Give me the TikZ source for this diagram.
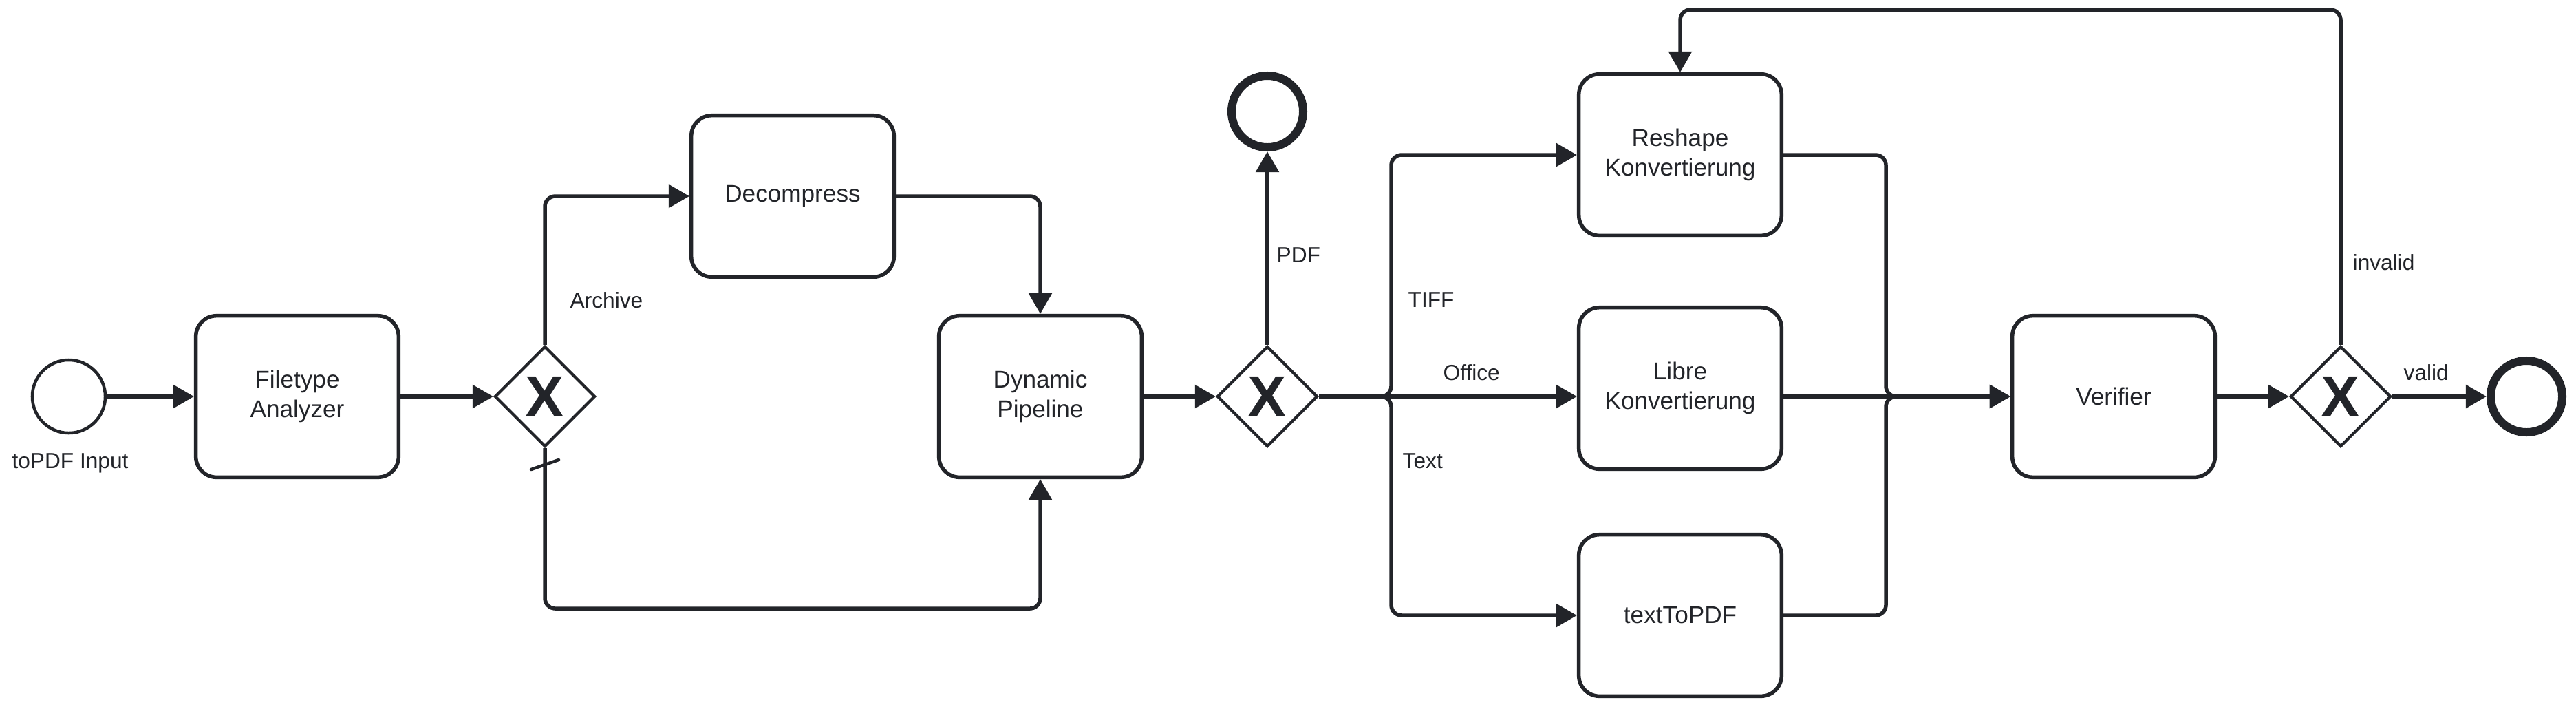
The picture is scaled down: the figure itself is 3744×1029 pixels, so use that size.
\documentclass[tikz,border=0pt]{standalone}
\usepackage{fontspec}
\setmainfont{Liberation Sans}
\usetikzlibrary{arrows.meta,shapes.geometric,calc}
\definecolor{ink}{RGB}{34,36,41}
\begin{document}
\begin{tikzpicture}[x=0.01cm,y=-0.01cm,
  task/.style={draw=ink, line width=0.055cm, rounded corners=0.3cm, minimum width=2.945cm, minimum height=2.345cm, align=center, font=\fontsize{10}{12.2}\selectfont, text=ink, inner sep=0},
  gate/.style={draw=ink, line width=0.042cm, diamond, aspect=1, minimum width=1.46cm, minimum height=1.46cm, inner sep=0},
  xmark/.style={font=\fontsize{24}{24}\selectfont\bfseries, text=ink, inner sep=0},
  startev/.style={draw=ink, circle, line width=0.045cm, minimum size=1.06cm, inner sep=0},
  endev/.style={draw=ink, circle, line width=0.12cm, minimum size=1.04cm, inner sep=0},
  flow/.style={draw=ink, line width=0.055cm, -{Triangle[length=0.3cm,width=0.33cm]}, rounded corners=0.15cm},
  lbl/.style={font=\fontsize{9}{11}\selectfont, text=ink, inner sep=0},
]
\useasboundingbox (0,0) rectangle (3744,1029);

% nodes
\node[startev] (start) at (100,576) {};
\node[task] (ft) at (432,576) {Filetype\\Analyzer};
\node[gate] (gw1) at (792,576) {};
\node[xmark] (x1) at (792,576) {X};
\node[task] (dec) at (1152,285) {Decompress};
\node[task] (dyn) at (1512,576) {Dynamic\\Pipeline};
\node[gate] (gw2) at (1842,576) {};
\node[xmark] (x2) at (1842,576) {X};
\node[endev] (endpdf) at (1842,162) {};
\node[task] (res) at (2442,225) {Reshape\\Konvertierung};
\node[task] (lib) at (2442,564) {Libre\\Konvertierung};
\node[task] (t2p) at (2442,894) {textToPDF};
\node[task] (ver) at (3072,576) {Verifier};
\node[gate] (gw3) at (3402,576) {};
\node[xmark] (x3) at (3402,576) {X};
\node[endev] (endv) at (3672,576) {};

\coordinate (low) at (1100,884);
\coordinate (split) at (2022,576);
\coordinate (merge) at (2741,576);
\coordinate (looptop) at (3000,14);

% connectors
\draw[flow] (start) -- (ft);
\draw[flow] (ft) -- (gw1);
\draw[flow] (gw1.north) |- (dec.west);
\draw[flow] (dec.east) -| (dyn.north);
\draw[flow] (gw1.south) |- (low) -| (dyn.south);
\draw[draw=ink, line width=0.045cm, line cap=round] (772,682) -- (812,668);
\draw[flow] (dyn) -- (gw2);
\draw[flow] (gw2.north) -- (endpdf.south);
\draw[flow] (gw2.east) -- (split) |- (res.west);
\draw[flow] (gw2.east) -- (gw2.east -| lib.west);
\draw[flow] (gw2.east) -- (split) |- (t2p.west);
\draw[flow] (res.east) -| (merge) -- (ver.west);
\draw[flow] (ver.west -| lib.east) -- (ver.west);
\draw[flow] (t2p.east) -| (merge) -- (ver.west);
\draw[flow] (ver) -- (gw3);
\draw[flow] (gw3) -- (endv);
\draw[flow] (gw3.north) |- (looptop) -| (res.north);

% labels
\node[lbl, anchor=base] (lstart) at (102,680) {toPDF Input};
\node[lbl, anchor=base west] (larch) at (828,447) {Archive};
\node[lbl, anchor=base west] (lpdf) at (1855,381) {PDF};
\node[lbl, anchor=base west] (ltiff) at (2046,446) {TIFF};
\node[lbl, anchor=base west] (loff) at (2097,552) {Office};
\node[lbl, anchor=base west] (ltext) at (2038,680) {Text};
\node[lbl, anchor=base west] (linv) at (3419,392) {invalid};
\node[lbl, anchor=base west] (lval) at (3493,552) {valid};
\end{tikzpicture}
\end{document}
